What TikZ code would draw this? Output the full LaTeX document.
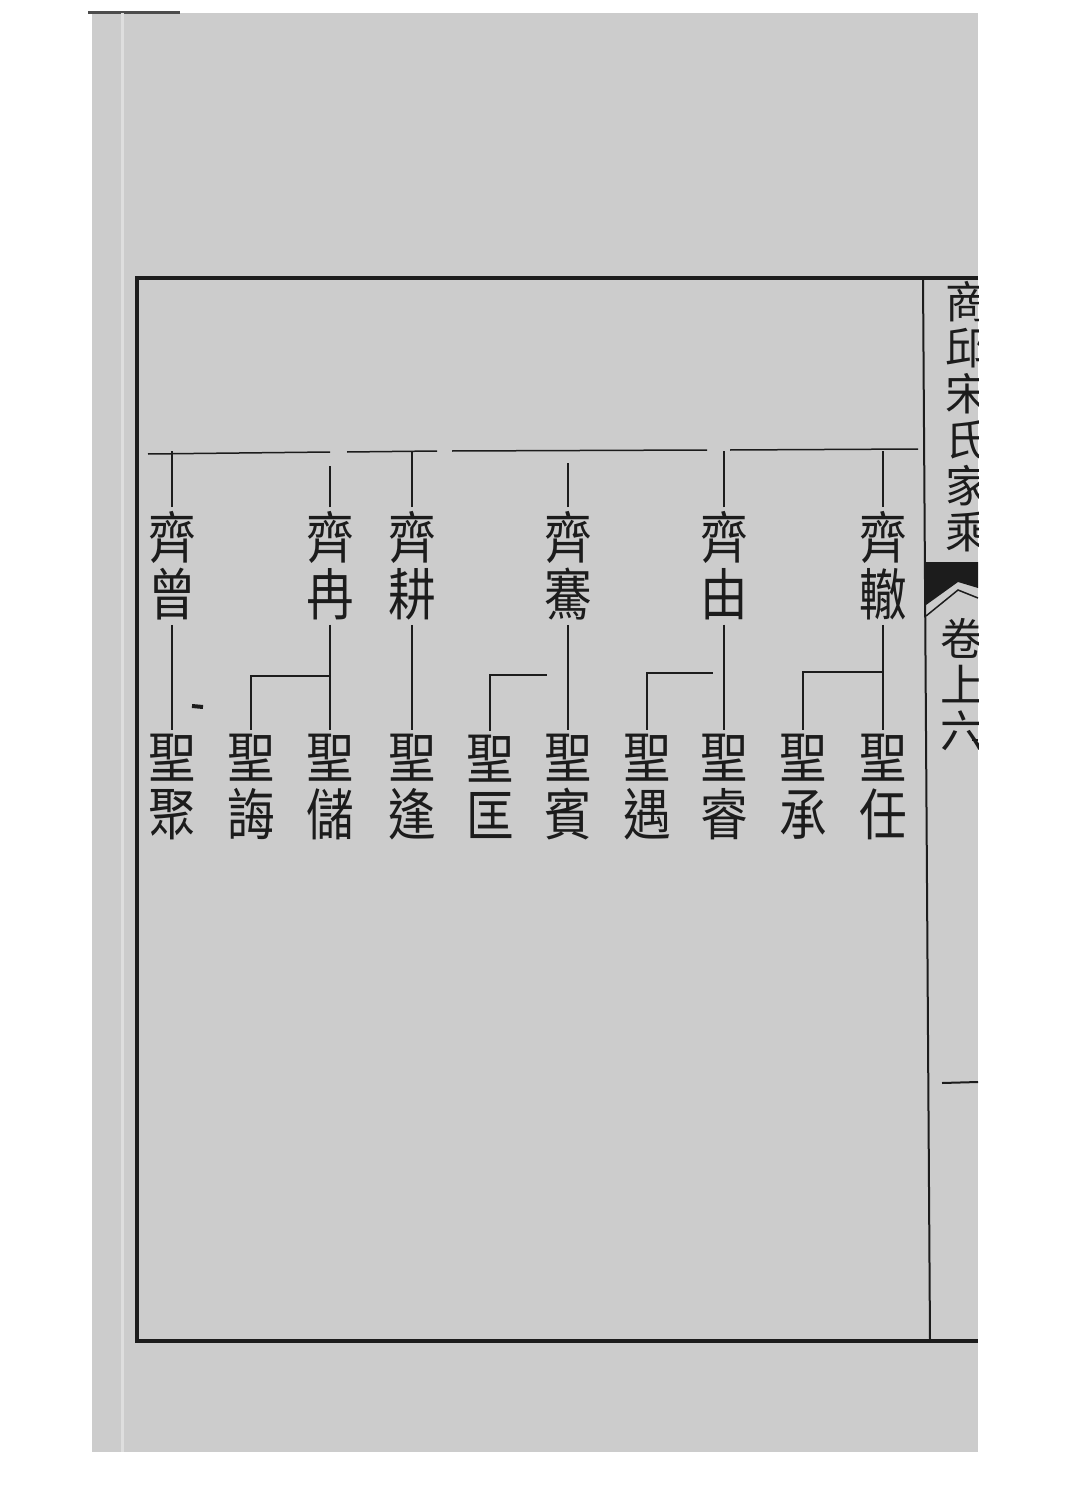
\documentclass[tikz,border=0pt]{standalone}
\usepackage{fontspec}
\newfontfamily\cjk{Noto Sans CJK TC}[FakeStretch=0.85]
\newfontfamily\cjkhead{Noto Sans CJK TC}
\definecolor{paper}{RGB}{204,204,204}
\definecolor{ink}{RGB}{28,28,28}

\begin{document}
\begin{tikzpicture}[x=0.5pt,y=-0.5pt,
  gen/.style={align=center,inner sep=2pt,text=ink,font=\cjk\fontsize{28}{28.5}\selectfont},
  title/.style={align=center,inner sep=0pt,text=ink,font=\cjkhead\fontsize{22}{23}\selectfont},
  link/.style={ink,line width=0.75pt}]
\useasboundingbox (0,0) rectangle (1069,1508);
\fill[white] (0,0) rectangle (1069,1508);
% page
\fill[paper] (92,13) rectangle (978,1452);
\draw[gray!60!black,line width=1.5pt] (88,13) -- (180,13);
\draw[white!35!paper,line width=1.5pt] (122,13) -- (122,1452);
% frame
\draw[ink,line width=2pt] (978,278) -- (137,278) -- (137,1341) -- (978,1341);
\draw[ink,line width=1pt] (923,278) -- (930,1341);
% title column
\begin{scope}
\clip (926,278) rectangle (978,1341);
\node[title] (head) at (967,417) {商\\邱\\宋\\氏\\家\\乘};
\node[title] (juan) at (962,685) {卷\\上\\六};
\fill[ink] (926,562) -- (978,562) -- (978,588) -- (958,582) -- (926,605) -- cycle;
\draw[ink,line width=0.75pt] (926,616) -- (958,590) -- (978,598);
\draw[ink,line width=1pt] (972,740) -- (978,740);
\draw[ink,line width=1pt] (942,1083) -- (978,1082);
\end{scope}

% generation bar
\coordinate (bar) at (0,451);
\draw[link] (148,454) -- (330,452) (347,452) -- (437,451) (452,451) -- (707,450) (730,450) -- (918,449);

% 齊 generation
\node[gen] (qi-che) at (883,566) {齊\\轍};
\node[gen] (qi-you) at (724,566) {齊\\由};
\node[gen] (qi-qian) at (568,566) {齊\\騫};
\node[gen] (qi-geng) at (412,566) {齊\\耕};
\node[gen] (qi-ran) at (330,566) {齊\\冉};
\node[gen] (qi-zeng) at (172,566) {齊\\曾};

% 聖 generation
\node[gen] (sheng-ren) at (883,787) {聖\\任};
\node[gen] (sheng-cheng) at (803,787) {聖\\承};
\node[gen] (sheng-rui) at (724,787) {聖\\睿};
\node[gen] (sheng-yu) at (647,787) {聖\\遇};
\node[gen] (sheng-bin) at (568,787) {聖\\賓};
\node[gen] (sheng-kuang) at (490,787) {聖\\匡};
\node[gen] (sheng-feng) at (412,787) {聖\\逢};
\node[gen] (sheng-chu) at (330,787) {聖\\儲};
\node[gen] (sheng-hui) at (251,787) {聖\\誨};
\node[gen] (sheng-ju) at (172,787) {聖\\聚};

% bar to 齊
\draw[link] (qi-che.north) -- (qi-che.north |- bar);
\draw[link] (qi-you.north) -- (qi-you.north |- bar);
\draw[link,shorten >=6pt] (qi-qian.north) -- (qi-qian.north |- bar);
\draw[link] (qi-geng.north) -- (qi-geng.north |- bar);
\draw[link,shorten >=7.5pt] (qi-ran.north) -- (qi-ran.north |- bar);
\draw[link] (qi-zeng.north) -- (qi-zeng.north |- bar);

% 齊 to 聖
\coordinate (fork-che) at (883,672);
\coordinate (fork-you) at (713,673);
\coordinate (fork-qian) at (547,675);
\coordinate (fork-ran) at (330,676);
\draw[link] (qi-che.south) -- (sheng-ren.north);
\draw[link] (sheng-cheng.north) |- (fork-che);
\draw[link] (qi-you.south) -- (sheng-rui.north);
\draw[link] (sheng-yu.north) |- (fork-you);
\draw[link] (qi-qian.south) -- (sheng-bin.north);
\draw[link] (sheng-kuang.north) |- (fork-qian);
\draw[link] (qi-geng.south) -- (sheng-feng.north);
\draw[link] (qi-ran.south) -- (sheng-chu.north);
\draw[link] (sheng-hui.north) |- (fork-ran);
\draw[link] (qi-zeng.south) -- (sheng-ju.north);
\draw[ink,line width=2pt] (192,706) -- (203,707);
\end{tikzpicture}
\end{document}
